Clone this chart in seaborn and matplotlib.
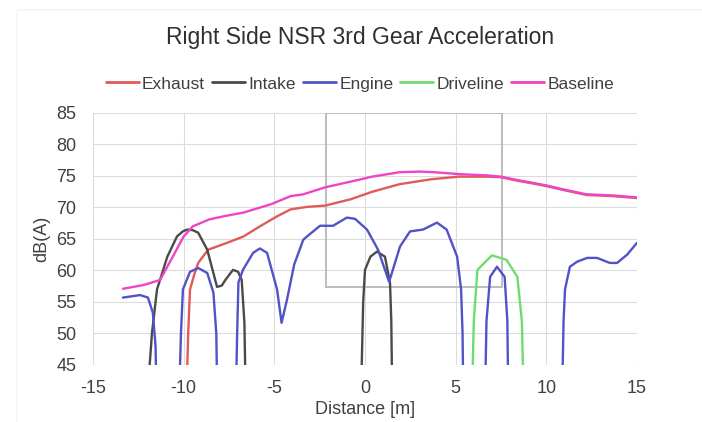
import matplotlib
matplotlib.use("Agg")
import matplotlib.pyplot as plt
from matplotlib.lines import Line2D
from matplotlib.patches import Rectangle
import seaborn as sns
import pandas as pd

# ---- data ----
series_names = ["Exhaust", "Intake", "Engine", "Driveline", "Baseline"]
series_colors = ["#E05A5A", "#4A4A4A", "#5252C8", "#70DC70", "#EE44C8"]

baseline_x = [-13.35, -12.2, -11.3, -10.6, -10.0, -9.5, -8.6, -7.8, -6.7, -5.2, -4.1, -3.4, -2.2,
              -0.8, 0.4, 1.9, 3.0, 3.8, 5.2, 6.7, 7.5, 8.5, 9.1, 10.0, 10.9, 12.2, 13.7, 15.0]
baseline_y = [57.1, 57.7, 58.5, 62.2, 65.4, 67.0, 68.1, 68.6, 69.2, 70.5, 71.8, 72.1, 73.2,
              74.1, 74.9, 75.6, 75.7, 75.6, 75.3, 75.1, 74.9, 74.3, 74.0, 73.5, 72.9, 72.1, 71.9, 71.6]

exhaust_x = [-9.85, -9.75, -9.65, -9.4, -9.2, -8.65, -7.6, -6.7, -5.8, -4.85, -4.1, -3.2, -2.2,
             -0.8, 0.4, 1.9, 3.7, 5.2, 6.7, 7.5, 8.5, 9.1, 10.0, 10.9, 12.2, 13.7, 15.0]
exhaust_y = [40, 50, 57.0, 59.5, 61.2, 63.3, 64.4, 65.4, 67.0, 68.6, 69.7, 70.1, 70.3,
             71.3, 72.5, 73.7, 74.5, 74.9, 74.9, 74.8, 74.2, 73.9, 73.4, 72.8, 72.0, 71.8, 71.5]

intake1_x = [-12.0, -11.75, -11.47, -10.9, -10.37, -10.05, -9.8, -9.5, -9.2, -8.7, -8.16, -7.9, -7.7, -7.28, -7.0, -6.8, -6.65, -6.58]
intake1_y = [40, 50, 57.0, 62.2, 65.4, 66.2, 66.5, 66.4, 66.0, 63.3, 57.4, 57.6, 58.5, 60.1, 59.8, 58.5, 51.7, 40]
intake2_x = [-0.22, -0.1, 0.0, 0.3, 0.66, 1.1, 1.38, 1.45, 1.5]
intake2_y = [40, 55, 60.1, 62.2, 63.0, 62.2, 58.0, 52, 40]

engine1_x = [-13.35, -12.4, -11.97, -11.7, -11.55, -11.5]
engine1_y = [55.7, 56.1, 55.7, 53.3, 48, 40]
engine2_x = [-10.25, -10.15, -10.04, -9.65, -9.2, -8.7, -8.36, -8.2, -8.15]
engine2_y = [40, 50, 57.0, 59.8, 60.4, 59.6, 56.5, 50, 40]
engine3_x = [-7.12, -7.05, -6.98, -6.73, -6.17, -5.8, -5.4, -4.85, -4.6, -4.3, -3.9, -3.4, -3.2,
             -2.48, -1.76, -1.0, -0.55, 0.11, 0.72, 1.33, 1.93, 2.48, 3.2, 3.97, 4.5, 5.08, 5.3, 5.38, 5.42]
engine3_y = [40, 50, 58.1, 60.1, 62.8, 63.5, 62.8, 57.0, 51.7, 55.4, 61.0, 64.9, 65.4,
             67.1, 67.1, 68.4, 68.2, 66.5, 63.3, 58.2, 63.8, 66.2, 66.5, 67.6, 66.5, 62.2, 57, 50, 40]
engine4_x = [6.62, 6.7, 6.9, 7.28, 7.7, 7.85, 7.9]
engine4_y = [40, 52, 59.0, 60.6, 59.0, 52, 40]
engine5_x = [10.87, 10.95, 11.03, 11.3, 11.7, 12.25, 12.8, 13.5, 13.9, 14.45, 15.0]
engine5_y = [40, 52, 57.0, 60.6, 61.4, 62.0, 62.0, 61.2, 61.2, 62.5, 64.4]

driveline_x = [5.9, 6.0, 6.2, 7.0, 7.8, 8.4, 8.65, 8.75]
driveline_y = [40, 52, 60.1, 62.4, 61.7, 59.0, 52, 40]

box_x = [-2.15, 7.55]
box_y = [57.4, 85.0]

x_ticks = [-15, -10, -5, 0, 5, 10, 15]
y_ticks = [45, 50, 55, 60, 65, 70, 75, 80, 85]

title = "Right Side NSR 3rd Gear Acceleration"
x_label = "Distance [m]"
y_label = "dB(A)"

# ---- build long table ----
segments = [
    ("Exhaust", "ex1", exhaust_x, exhaust_y),
    ("Intake", "in1", intake1_x, intake1_y),
    ("Intake", "in2", intake2_x, intake2_y),
    ("Engine", "en1", engine1_x, engine1_y),
    ("Engine", "en2", engine2_x, engine2_y),
    ("Engine", "en3", engine3_x, engine3_y),
    ("Engine", "en4", engine4_x, engine4_y),
    ("Engine", "en5", engine5_x, engine5_y),
    ("Driveline", "dr1", driveline_x, driveline_y),
    ("Baseline", "ba1", baseline_x, baseline_y),
]
rows = []
for name, seg, xs, ys in segments:
    for i, (xv, yv) in enumerate(zip(xs, ys)):
        rows.append({"series": name, "segment": seg, "order": i, "x": xv, "y": yv})
df = pd.DataFrame(rows)

sns.set_style("white")
plt.rcParams["font.family"] = ["Liberation Sans", "DejaVu Sans"]
plt.rcParams["axes.unicode_minus"] = False

fig = plt.figure(figsize=(7.02, 4.22), dpi=100)
ax = fig.add_axes([93 / 702, 1 - 365 / 422, (637 - 93) / 702, (365 - 113) / 422])

palette = dict(zip(series_names, series_colors))
sns.lineplot(data=df, x="x", y="y", hue="series", hue_order=series_names, units="segment",
             estimator=None, sort=False, palette=palette, linewidth=1.7, legend=False, ax=ax)

ax.add_patch(Rectangle((box_x[0], box_y[0]), box_x[1] - box_x[0], box_y[1] - box_y[0],
                       fill=False, edgecolor="#BDBDBD", linewidth=1.4, zorder=1))

ax.set_xlim(-15, 15)
ax.set_ylim(45, 85)
ax.set_xticks(x_ticks)
ax.set_yticks(y_ticks)
ax.grid(True, color="#DCDCDC", linewidth=0.8)
ax.set_axisbelow(True)
for sp in ax.spines.values():
    sp.set_visible(False)
ax.tick_params(length=0, labelsize=13, colors="#404040")
ax.tick_params(axis="x", pad=11)
ax.tick_params(axis="y", pad=12)
ax.set_xlabel(x_label, fontsize=13, color="#404040", labelpad=3)
ax.set_ylabel(y_label, fontsize=13, color="#404040", labelpad=4)

fig.text(0.513, 0.912, title, ha="center", va="center", fontsize=16.5, color="#303030")

handles = [Line2D([0], [0], color=c, lw=2) for c in series_colors]
fig.legend(handles, series_names, loc="center", bbox_to_anchor=(0.513, 0.801), ncol=5,
           frameon=False, fontsize=12.5, handlelength=1.9, handletextpad=0.2, columnspacing=0.4,
           labelcolor="#404040")

# faint chart border
fig.add_artist(Line2D([17 / 702, 1], [1 - 10 / 422, 1 - 10 / 422], transform=fig.transFigure,
                      color="#F3F3F3", lw=1.2))
fig.add_artist(Line2D([17 / 702, 17 / 702], [0, 1 - 10 / 422], transform=fig.transFigure,
                      color="#F6F6F6", lw=1.2))

fig.savefig("out.png", dpi=100)
